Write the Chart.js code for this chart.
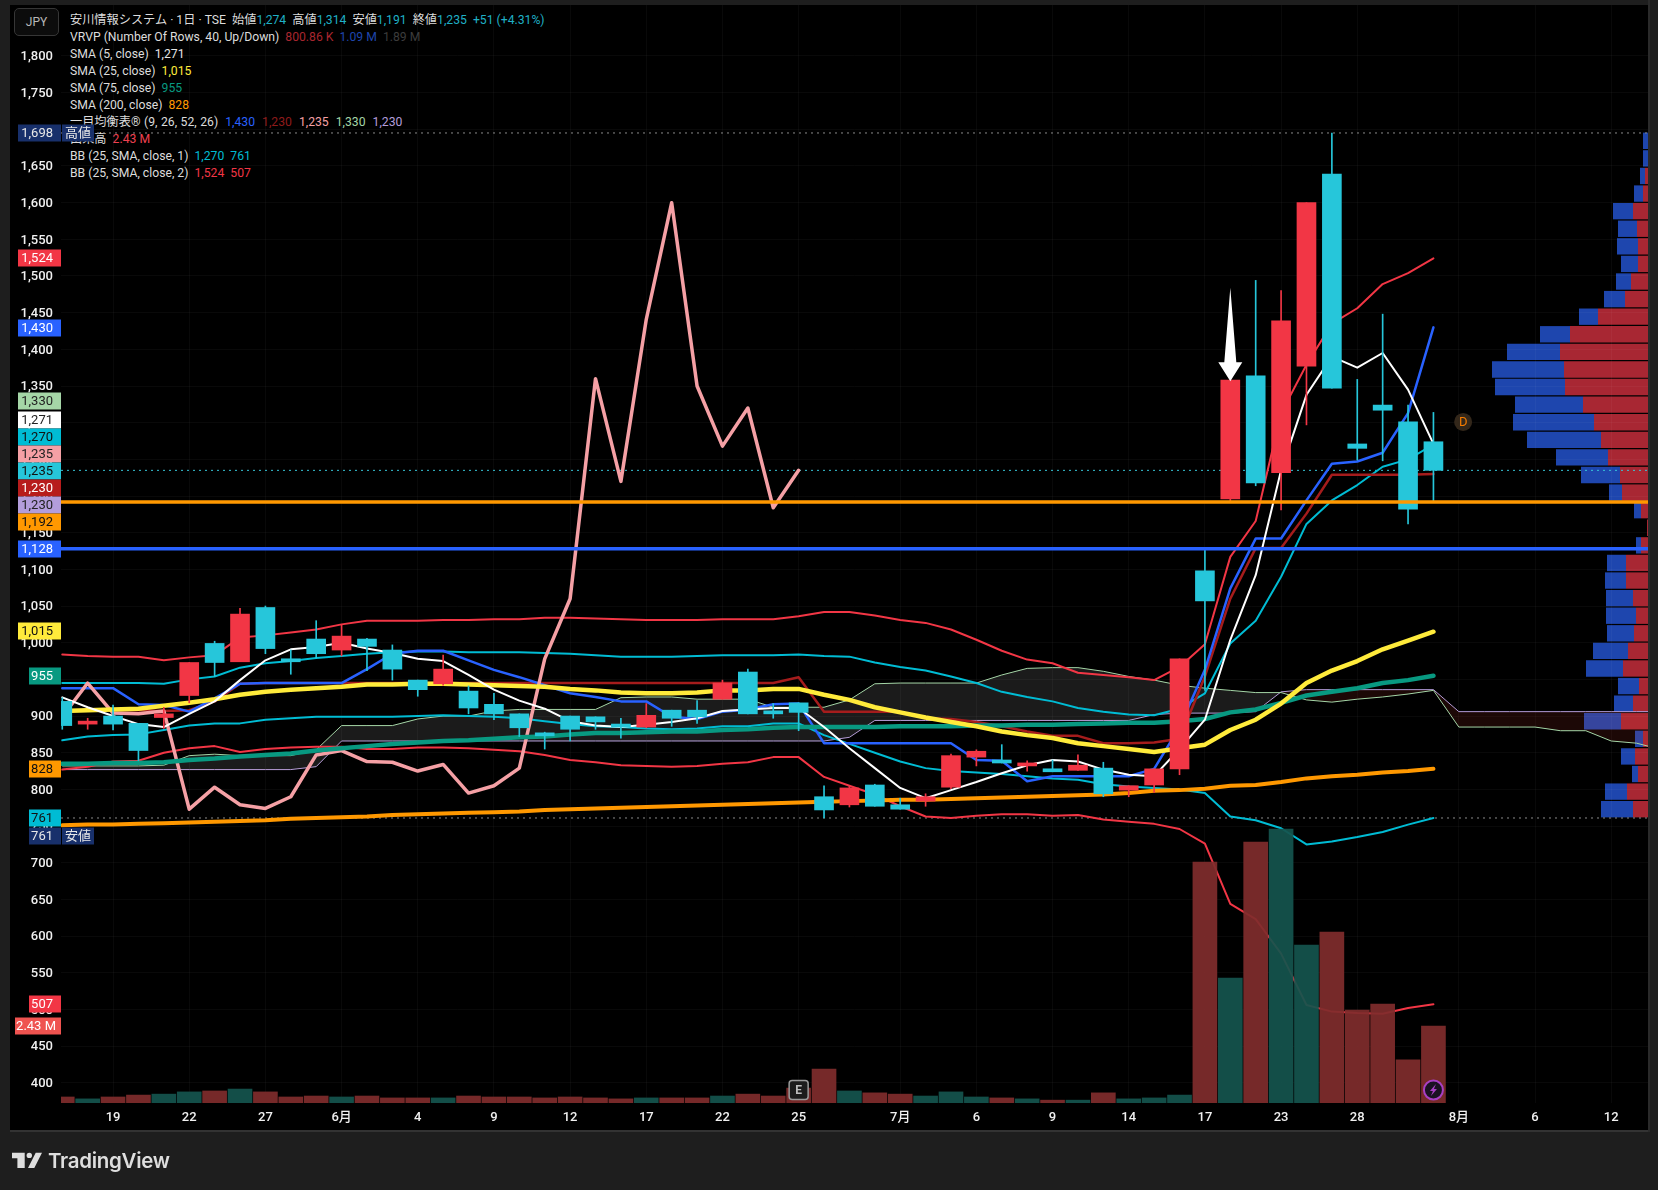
<!DOCTYPE html>
<html lang="ja"><head><meta charset="utf-8"><title>安川情報システム</title>
<script src="https://cdn.jsdelivr.net/npm/chart.js@4"></script>
<style>
html,body{margin:0;padding:0;background:#1e1e1e;width:1658px;height:1190px;overflow:hidden}
#pane{position:absolute;left:10px;top:5px;width:1638px;height:1125px;background:#000}
#rule{position:absolute;left:10px;top:1130px;width:1638px;height:2px;background:#333}
#side{position:absolute;left:1648px;top:0;width:2px;height:1132px;background:#2a2a2a}
#vpWrap{position:absolute;left:1148px;top:132px;width:500px;height:686px}
#mainWrap{position:absolute;left:0;top:0;width:1658px;height:1190px}
#head{position:absolute;left:70px;top:12px;font:12.2px/17px Roboto,"Noto Sans CJK JP",sans-serif;color:#dcdcdc}
#head div{height:17px;white-space:pre}
#jpy{position:absolute;left:14px;top:8px;width:43px;height:26px;border:1px solid #363636;border-radius:5px;background:#0c0c0c;color:#b8b8b8;font:12px/26px Roboto,sans-serif;text-align:center;z-index:5}
#logo{position:absolute;left:0;top:1120px}
#brand{position:absolute;left:48px;top:1147px;font:600 20.5px/28px Inter,sans-serif;color:#dedede;letter-spacing:-.3px}
.c{color:#1fb0c6}.w{color:#e6e6e6}
.g{margin-left:6px}
</style></head><body>
<div id="pane"></div><div id="rule"></div><div id="side"></div>
<div id="vpWrap"><canvas id="vp" width="500" height="686"></canvas></div>
<div id="head"><div>安川情報システム · 1日 · TSE  始値<span class="c">1,274</span>  高値<span class="c">1,314</span>  安値<span class="c">1,191</span>  終値<span class="c">1,235</span>  <span class="c">+51 (+4.31%)</span></div><div>VRVP (Number Of Rows, 40, Up/Down)<span class="g" style="color:#a8262f">800.86 K</span><span class="g" style="color:#1f46ad">1.09 M</span><span class="g" style="color:#3c3c3c">1.89 M</span></div><div>SMA (5, close)  <span class="w">1,271</span></div><div>SMA (25, close)  <span style="color:#ffeb3b">1,015</span></div><div>SMA (75, close)  <span style="color:#089981">955</span></div><div>SMA (200, close)  <span style="color:#ff9800">828</span></div><div style="word-spacing:.5px">一目均衡表® (9, 26, 52, 26)  <span style="color:#2962ff">1,430</span>  <span style="color:#8e1b1b">1,230</span>  <span style="color:#f5a0a5">1,235</span>  <span style="color:#a5d6a7">1,330</span>  <span style="color:#b39ddb">1,230</span></div><div>出来高  <span style="color:#ef4050">2.43 M</span></div><div>BB (25, SMA, close, 1)  <span style="color:#00bcd4">1,270</span>  <span style="color:#00bcd4">761</span></div><div>BB (25, SMA, close, 2)  <span style="color:#f23645">1,524</span>  <span style="color:#f23645">507</span></div></div>
<div id="mainWrap"><canvas id="main" width="1658" height="1190"></canvas></div>
<div id="jpy">JPY</div>
<svg id="logo" width="200" height="70"><path fill="#dedede" d="M12 32.7H24.7V48H17.4V38.3H12ZM35.7 32.7H42L34.3 48H28Z"/><circle cx="29.3" cy="35.4" r="2.7" fill="#dedede"/></svg>
<div id="brand">TradingView</div>
<script>
// bar numbering: 0 is the bar under the "19" tick
const barStart = -2;
const xTickPositions = [0,3,6,9,12,15,18,21,24,27,31,34,37,40,43,46,49,53,56,59];
const xTickLabels = ['19','22','27','6月','4','9','12','17','22','25','7月','6','9','14','17','23','28','8月','6','12'];
const yTickValues = [400,450,500,550,600,650,700,750,800,850,900,950,1000,1050,1100,1150,1200,1250,1300,1350,1400,1450,1500,1550,1600,1650,1700,1750,1800];

const candleOpen  = [920,889,900,890,898,928,999,974,1048,978,1005,990,1005,990,949,944,934,916,903,874,900,899,887,885,908,908,923,960,904,918,790,779,806,779,784,803,844,840,832,828,826,829,799,806,828,1098,1196,1364,1232,1377,1639,1271,1324,1301,1274];
const candleClose = [887,890,889,853,903,973,973,1039,992,974,985,1009,995,964,936,964,911,903,884,873,882,892,885,901,897,899,945,903,903,905,772,802,777,773,790,846,852,836,836,824,833,794,805,828,978,1057,1358,1218,1439,1600,1347,1265,1317,1182,1235];
const candleHigh  = [925,897,915,890,912,973,1002,1047,1050,990,1030,1024,1006,997,949,983,941,931,903,878,900,899,897,917,908,921,949,964,917,918,805,805,807,788,794,848,854,861,839,840,847,837,805,828,978,1128,1358,1494,1480,1600,1695,1359,1448,1324,1314];
const candleLow   = [882,882,881,839,883,918,954,974,985,957,979,982,962,949,927,942,903,895,872,855,866,882,870,884,886,890,923,903,897,880,761,776,777,773,777,801,832,836,825,824,826,790,790,796,820,935,1192,1214,1181,1297,1347,1249,1248,1162,1191];

// volume in millions of shares; u = price-up colour, d = price-down colour
const volumeM = [.19,.13,.19,.25,.28,.35,.38,.44,.35,.19,.22,.19,.22,.16,.16,.16,.22,.19,.19,.16,.19,.16,.13,.16,.16,.16,.22,.28,.22,.47,1.07,.38,.32,.28,.22,.35,.19,.16,.13,.09,.09,.32,.13,.16,.25,7.6,3.94,8.23,8.64,4.98,5.39,2.93,3.12,1.36,2.43];
const volumeDir = ['u','d','u','u','d','d','u','d','u','u','u','d','u','u','u','d','u','u','u','u','u','u','u','d','u','u','d','u','u','u','u','d','u','u','d','d','d','u','d','u','d','u','d','d','d','u','d','u','d','d','u','u','u','u','u'];

const sma5   = [925.5,912,900,889,885,903,920,949,976,991,994,1000,992,986,978,975,956,936,921,910,893,887,885,888,892,897,907,909,911,911,885,856,829,802,788,799,810,822,833,840,838,827,820,818,855,895,1004,1092,1235,1338,1390,1375,1395,1345,1271];
const sma25  = [907,908,909,910,914,918,923,929,933,936,938,940,943,943,944,944,943,942,941,940,937,935,932,931,931,932,935,935,937,937,929,922,912,905,898,892,886,879,874,870,863,859,855,851,856,861,881,895,917,945,962,975,991,1003,1015];
const sma75  = [835,835,836,836,837,840,842,845,847,849,853,856,859,862,864,866,867,869,871,872,875,877,877,878,879,879,881,882,884,885,885,885,885,886,886,886,887,887,888,888,889,890,891,891,893,896,905,909,918,928,933,938,945,949,955];
const sma200 = [751,752,752,753,754,755,756,757,758,760,761,762,763,765,766,767,768,769,770,772,773,774,775,776,777,778,779,780,781,782,783,784,785,786,786,787,788,789,790,791,792,793,795,798,799,801,805,806,810,815,818,820,823,825,828];

const ichiConversion = [938,938,938,916,915,906,924,944,945,945,945,945,964,985,989,989,976,963,953,942,931,926,920,920,899,896,906,909,916,917,863,863,863,863,863,863,840,839,811,818,818,818,818,828,885,963,1074,1142,1142,1194,1244,1247,1259,1313,1430];
const ichiBase = [908,908,908,908,907,908,920,944,945,945,945,945,945,945,945,945,945,945,945,945,945,945,945,945,945,945,945,945,945,953,906,906,906,906,897,896,892,886,879,873,873,863,863,864,869,954,1060,1129,1129,1176,1229,1229,1229,1229,1230];
// lagging span starts at bar -2 and ends at bar 27
const ichiLagging = [899,945,904,903,907,773,803,779,774,790,847,853,838,837,825,834,795,805,829,978,1060,1360,1220,1441,1600,1350,1268,1320,1184,1235];
// leading spans start at bar -2 and run on to bar 61
const ichiSpanA = [832,832,832,832,833,846,848,846,846,846,854,887,887,887,896,900,900,907,909,909,909,909,925,926,926,923,923,923,912,912,912,922,944,945,945,945,945,956,965,966,966,961,954,949,942,938,935,932,932,922,919,923,926,930,935,885,885,885,885,880,880,866,863,854];
const ichiSpanB = [827,827,827,827,827,827,827,827,827,827,831,866,866,866,866,866,866,866,866,866,866,866,866,866,866,866,866,866,866,866,866,871,894,894,894,894,894,894,894,894,894,894,894,902,904,904,904,906,933,936,936,936,936,936,936,906,906,906,906,906,906,906,906,906];

const bb1Upper = [945,945,945,945,944,950,954,966,972,975,979,982,985,987,988,988,987,987,987,986,985,983,981,981,981,982,983,983,983,984,982,981,973,967,962,954,945,933,926,920,911,906,902,901,910,931,999,1030,1090,1162,1194,1215,1240,1250,1270];
const bb1Lower = [867,872,874,875,881,887,890,890,895,897,899,899,899,899,900,901,900,899,897,893,889,886,885,883,882,883,886,886,890,890,874,862,850,838,829,825,823,821,818,815,813,807,804,802,800,795,763,758,747,725,729,735,742,752,761];
const bb2Upper = [984,982,981,981,976,980,983,1007,1010,1014,1018,1025,1030,1030,1030,1031,1031,1032,1032,1034,1034,1033,1032,1031,1031,1031,1032,1032,1032,1036,1042,1042,1037,1031,1027,1018,1004,989,977,972,959,956,953,949,967,998,1117,1166,1313,1379,1435,1456,1489,1504,1524];
const bb2Lower = [827,831,838,839,850,856,859,851,855,857,858,858,855,855,857,857,856,854,852,847,840,837,833,832,831,832,835,837,844,844,817,805,793,777,763,761,764,766,766,764,765,759,756,753,746,726,644,623,576,506,497,495,494,502,507];

// horizontal price levels
const levelOrange = 1192, levelBlue = 1128, lastPrice = 1235, pivotHigh = 1695, pivotLow = 761;
const arrowTipPrice = 1358, arrowTailPrice = 1484, arrowBar = 44;

// visible-range volume profile, top row first (relative volume)
const vpUp   = [0,0,3,5,15,11,10,10,17,23,50,78,88,84,83,65,54,47,40,28,26,7,1,7,22,22,15,12,14,20,25,9,15,27,5,13,10,21,15];
const vpDown = [5,5,5,9,20,19,21,17,15,21,19,30,53,72,70,68,81,74,52,39,13,7,0,5,19,21,27,30,27,35,37,21,19,37,8,14,6,22,32];

// price tags on the axis: text, anchor price on the axis, fill, ink
const priceTags = [
 ['1,698',1695.5,'#18306b','#e8e8e8'],['1,524',1524,'#f23645','#fff'],['1,430',1429,'#2962ff','#fff'],
 ['1,330',1329,'#a5d6a7','#222'],['1,271',1303,'#ffffff','#222'],['1,270',1280,'#00bcd4','#111'],
 ['1,235',1257,'#f5a0a5','#222'],['1,235',1234,'#26c6da','#111'],['1,230',1211,'#b71c1c','#fff'],
 ['1,230',1188,'#b39ddb','#222'],['1,192',1164.5,'#ff9800','#111'],['1,128',1128,'#2962ff','#fff'],
 ['1,015',1016,'#ffeb3b','#111'],['955',955,'#089981','#fff'],['828',828,'#ff9800','#111'],
 ['761',760.5,'#00bcd4','#111'],['761',737,'#18306b','#e8e8e8'],['507',507,'#f23645','#fff'],['2.43 M',477,'#ef5350','#fff']
];
const sideTags = [['高値',1695.5],['安値',737]];

const FONT = 'Roboto,"Noto Sans CJK JP",sans-serif';
const RED='#f23645', CYAN='#26c6da', GRID='rgba(255,255,255,.035)';
const bars = candleOpen.map((_,i)=>i+barStart);
const colors = candleOpen.map((o,i)=>candleClose[i]>=o?RED:CYAN);
const xy = (arr,start=barStart)=>arr.map((y,i)=>({x:start+i,y}));
const X_MIN=-2.05, X_MAX=60.45;

function line(label,arr,color,width,order,extra={}){
  return Object.assign({type:'line',label,data:xy(arr),borderColor:color,borderWidth:width,pointRadius:0,tension:0,order,borderCapStyle:'round',borderJoinStyle:'round',fill:false},extra);
}
function level(label,v,color,width,order,dash){
  return {type:'line',label,data:[{x:X_MIN,y:v},{x:X_MAX,y:v}],borderColor:color,borderWidth:width,borderDash:dash||[],pointRadius:0,order,fill:false};
}

const datasets = [
 line('一目 先行スパン1',ichiSpanA,'#a5d6a7',1,19,{fill:{target:1,above:'rgba(255,255,255,.105)',below:'rgba(230,65,50,.12)'}}),
 line('一目 先行スパン2',ichiSpanB,'#b39ddb',1,20),
 level('最終値',lastPrice,'#37c6d8',1,21,[2,4]),
 level('高値',pivotHigh,'#8a8a8a',1,21,[2,4]),
 level('安値',pivotLow,'#8a8a8a',1,21,[2,4]),
 line('BB2 上',bb2Upper,'#f23645',2,15),
 line('BB2 下',bb2Lower,'#f23645',2,15),
 line('BB1 上',bb1Upper,'#00bcd4',2,14),
 line('BB1 下',bb1Lower,'#00bcd4',2,14),
 line('一目 基準線',ichiBase,'#a51c1c',2.5,13),
 line('一目 転換線',ichiConversion,'#2962ff',2.5,12),
 line('一目 遅行スパン',ichiLagging,'#f5a0a5',3.5,11),
 line('SMA200',sma200,'#ff9800',4,10),
 line('SMA75',sma75,'#089981',4.5,9),
 line('SMA25',sma25,'#ffeb3b',4.5,8),
 line('SMA5',sma5,'#ffffff',2,7),
 {type:'bar',label:'出来高',data:bars.map((x,i)=>({x,y:volumeM[i]})),yAxisID:'yVol',barThickness:24,grouped:false,order:6,
  backgroundColor:volumeDir.map(d=>d==='u'?'rgba(127,44,44,.93)':'rgba(20,84,78,.93)')},
 {type:'bar',label:'ヒゲ',data:bars.map((x,i)=>({x,y:[candleLow[i],candleHigh[i]]})),barThickness:1,grouped:false,order:4,backgroundColor:colors},
 {type:'bar',label:'ローソク足',data:bars.map((x,i)=>({x,y:[candleOpen[i],candleClose[i]]})),barThickness:19,grouped:false,order:3,backgroundColor:colors,minBarLength:3},
 level('水平線 橙',levelOrange,'#ff9800',3.5,1),
 level('水平線 青',levelBlue,'#2962ff',3.5,1),
];

const overlay = {
  id:'overlay',
  afterDatasetsDraw(c){
    const g=c.ctx,x=c.scales.x,y=c.scales.y;
    // arrow marker
    const ax=x.getPixelForValue(arrowBar), tip=y.getPixelForValue(arrowTipPrice)+1, tail=y.getPixelForValue(arrowTailPrice);
    g.save();g.fillStyle='#fff';g.beginPath();
    g.moveTo(ax,tail);g.lineTo(ax+6,tip-19);g.lineTo(ax+12,tip-19);g.lineTo(ax,tip);g.lineTo(ax-12,tip-19);g.lineTo(ax-6,tip-19);g.closePath();g.fill();
    // earnings flag on bar 27
    const ex=x.getPixelForValue(27), ey=c.chartArea.bottom-13;
    g.fillStyle='#1c1c1c';g.strokeStyle='#9a9a9a';g.lineWidth=1.5;g.beginPath();g.roundRect(ex-9.5,ey-9.5,19,19,3);g.fill();g.stroke();
    g.fillStyle='#bdbdbd';g.font='bold 12px '+FONT;g.textAlign='center';g.textBaseline='middle';g.fillText('E',ex,ey+.5);
    // lightning marker on last bar
    const lx=x.getPixelForValue(52), ly=c.chartArea.bottom-13;
    g.fillStyle='#1a1222';g.strokeStyle='#a83fc4';g.lineWidth=2;g.beginPath();g.arc(lx,ly,9.5,0,7);g.fill();g.stroke();
    g.fillStyle='#a83fc4';g.beginPath();g.moveTo(lx+2.5,ly-6);g.lineTo(lx-3.5,ly+1);g.lineTo(lx-.5,ly+1);g.lineTo(lx-2.5,ly+6);g.lineTo(lx+3.5,ly-1);g.lineTo(lx+.5,ly-1);g.closePath();g.fill();
    // dividend marker
    const dx=x.getPixelForValue(53.17), dy=y.getPixelForValue(1301);
    g.fillStyle='#33271a';g.beginPath();g.arc(dx,dy,9,0,7);g.fill();
    g.fillStyle='#f57c00';g.font='13px '+FONT;g.fillText('D',dx,dy+.5);
    g.restore();
  },
  afterDraw(c){
    const g=c.ctx,y=c.scales.y,R=61,H=17;
    g.save();g.font='13px '+FONT;g.textBaseline='middle';
    priceTags.forEach(([t,p,bg,fg])=>{
      const py=Math.round(y.getPixelForValue(p));
      const L = t.length>5?15:(t.length>=5?18:29);
      g.fillStyle=bg;g.fillRect(L,py-H/2,R-L,H);
      g.fillStyle=fg;g.textAlign='right';g.fillText(t,t.length>5?56:53,py+.5);
    });
    sideTags.forEach(([t,p])=>{
      const py=Math.round(y.getPixelForValue(p));
      g.fillStyle='#18306b';g.fillRect(62,py-H/2,32,H);
      g.fillStyle='#e8e8e8';g.textAlign='center';g.fillText(t,78,py+.5);
    });
    g.restore();
  }
};

new Chart(document.getElementById('main'),{
  data:{datasets},
  plugins:[overlay],
  options:{
    responsive:false,animation:false,
    layout:{padding:{left:10,top:5,right:10,bottom:60}},
    plugins:{legend:{display:false},tooltip:{enabled:false}},
    scales:{
      x:{type:'linear',offset:false,min:X_MIN,max:X_MAX,
        afterBuildTicks(s){s.ticks=xTickPositions.map(value=>({value}));},
        afterFit(s){s.height=27;s.paddingLeft=0;s.paddingRight=0;},
        grid:{color:GRID,drawTicks:false,offset:false},border:{display:false},
        ticks:{autoSkip:false,maxRotation:0,padding:7,color:'#f0f0f0',font:{family:FONT,size:13,weight:'500'},
          callback:v=>xTickLabels[xTickPositions.indexOf(v)]}},
      y:{type:'linear',position:'left',offset:false,min:372.4,max:1869.5,
        afterBuildTicks(s){s.ticks=yTickValues.map(value=>({value}));},
        afterFit(s){s.width=51;s.paddingTop=0;s.paddingBottom=0;},
        grid:{color:GRID,drawTicks:false},border:{display:false},
        ticks:{autoSkip:false,padding:8,labelOffset:1,color:'#f0f0f0',font:{family:FONT,size:13,weight:'500'},
          callback:v=>v.toLocaleString('en-US')}},
      yVol:{type:'linear',display:false,min:0,max:34.64,afterFit(s){s.paddingTop=0;s.paddingBottom=0;}}
    }
  }
});

// volume profile: stacked horizontal bars growing leftwards from the right edge
const vpRows = vpUp.map((_,i)=>'r'+i);
new Chart(document.getElementById('vp'),{
  type:'bar',
  data:{labels:vpRows,datasets:[
    {label:'Up',data:vpUp,backgroundColor:'#a82733',stack:'v'},
    {label:'Down',data:vpDown,backgroundColor:'#1e46ae',stack:'v'}
  ]},
  options:{
    indexAxis:'y',responsive:false,animation:false,
    layout:{padding:0},
    plugins:{legend:{display:false},tooltip:{enabled:false}},
    datasets:{bar:{categoryPercentage:1,barPercentage:.93}},
    scales:{
      x:{display:false,reverse:true,stacked:true,min:0,max:500},
      y:{display:false,stacked:true}
    }
  }
});
</script>
</body></html>
